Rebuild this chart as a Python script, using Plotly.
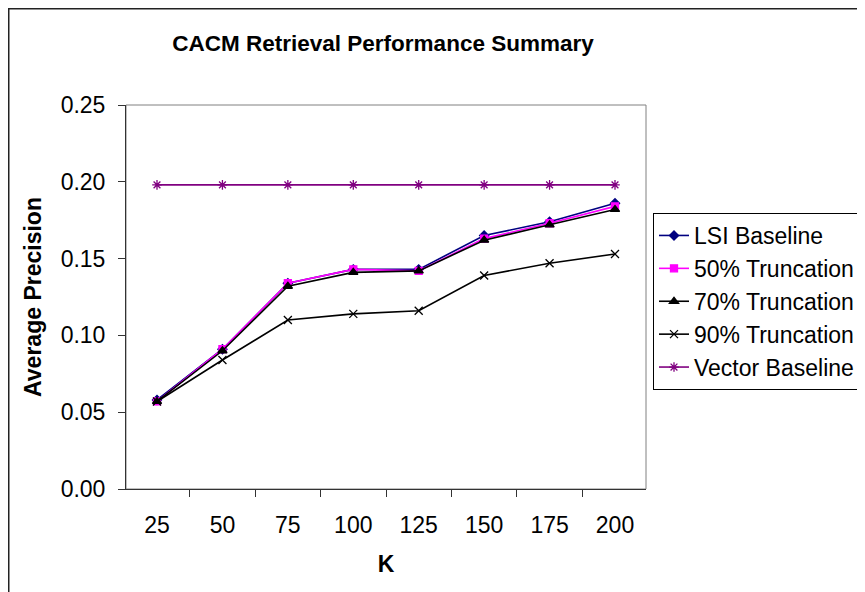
import plotly.graph_objects as go

K = ["25", "50", "75", "100", "125", "150", "175", "200"]
lsi_baseline = [0.058, 0.091, 0.134, 0.143, 0.143, 0.165, 0.174, 0.186]
trunc_50 = [0.057, 0.091, 0.134, 0.143, 0.142, 0.163, 0.173, 0.184]
trunc_70 = [0.057, 0.090, 0.132, 0.141, 0.142, 0.162, 0.172, 0.182]
trunc_90 = [0.057, 0.084, 0.110, 0.114, 0.116, 0.139, 0.147, 0.153]
vector_baseline = [0.198, 0.198, 0.198, 0.198, 0.198, 0.198, 0.198, 0.198]

y_ticks = [0.00, 0.05, 0.10, 0.15, 0.20, 0.25]

FONT = "Liberation Sans, Arial, sans-serif"

series = [
    ("LSI Baseline", lsi_baseline, "#000080", "diamond", 7),
    ("50% Truncation", trunc_50, "#FF00FF", "square", 7),
    ("70% Truncation", trunc_70, "#000000", "triangle-up", 8),
    ("90% Truncation", trunc_90, "#000000", "x-thin-open", 8),
    ("Vector Baseline", vector_baseline, "#800080", "asterisk-open", 8),
]

fig = go.Figure()
for name, vals, color, sym, size in series:
    fig.add_trace(go.Scatter(
        x=K, y=vals, name=name, mode="lines+markers",
        line=dict(color=color, width=1.6),
        marker=dict(symbol=sym, size=size, color=color,
                    line=dict(color=color, width=1.3)),
    ))

# page has an 8px body margin, so figure coords = page coords - 8
OFF = 8
W, H = 865 - OFF, 592 - OFF
L, R, T, B = 126 - OFF, 646 - OFF, 105 - OFF, 489 - OFF
pw, ph = R - L, B - T

def px_x(p):
    return (p - L) / pw

def px_y(p):
    return (B - p) / ph

fig.update_layout(
    width=W, height=H,
    margin=dict(l=L, r=W - R, t=T, b=H - B, autoexpand=False),
    paper_bgcolor="white", plot_bgcolor="white",
    font=dict(family=FONT, size=23, color="black"),
    title=dict(text="<b>CACM Retrieval Performance Summary</b>",
               x=(383 - OFF) / W, xref="container", xanchor="center",
               y=1 - (43 - OFF) / H, yref="container", yanchor="middle",
               font=dict(size=22.5, family=FONT, color="black")),
    showlegend=True,
    legend=dict(x=px_x(653 - OFF), y=px_y(213 - OFF), xanchor="left", yanchor="top",
                bordercolor="black", borderwidth=1, bgcolor="white",
                font=dict(size=23, family=FONT, color="black"),
                tracegroupgap=0, itemwidth=30),
    xaxis=dict(type="category", tickson="boundaries", ticks="outside",
               ticklen=7, tickcolor="#333333", showline=True,
               linecolor="#333333", linewidth=1, showgrid=False,
               zeroline=False, tickfont=dict(size=23), ticklabelstandoff=15,
               title=dict(text="<b>K</b>", font=dict(size=23), standoff=19)),
    yaxis=dict(range=[0, 0.25], tickvals=y_ticks, tickformat=".2f",
               ticks="outside", ticklen=7, tickcolor="#333333",
               showline=True, linecolor="#333333", linewidth=1,
               showgrid=False, zeroline=False, tickfont=dict(size=23),
               ticklabelstandoff=8,
               title=dict(text="<b>Average Precision</b>", font=dict(size=23),
                          standoff=12)),
    shapes=[
        dict(type="rect", xref="paper", yref="paper", x0=0, x1=1, y0=0, y1=1,
             line=dict(color="#808080", width=1), layer="below"),
        dict(type="rect", xref="paper", yref="paper",
             x0=px_x(0.75), x1=px_x(1000), y0=px_y(0.75), y1=px_y(800),
             line=dict(color="#222222", width=1.5), layer="below"),
    ],
)

fig.write_html("out.html")
